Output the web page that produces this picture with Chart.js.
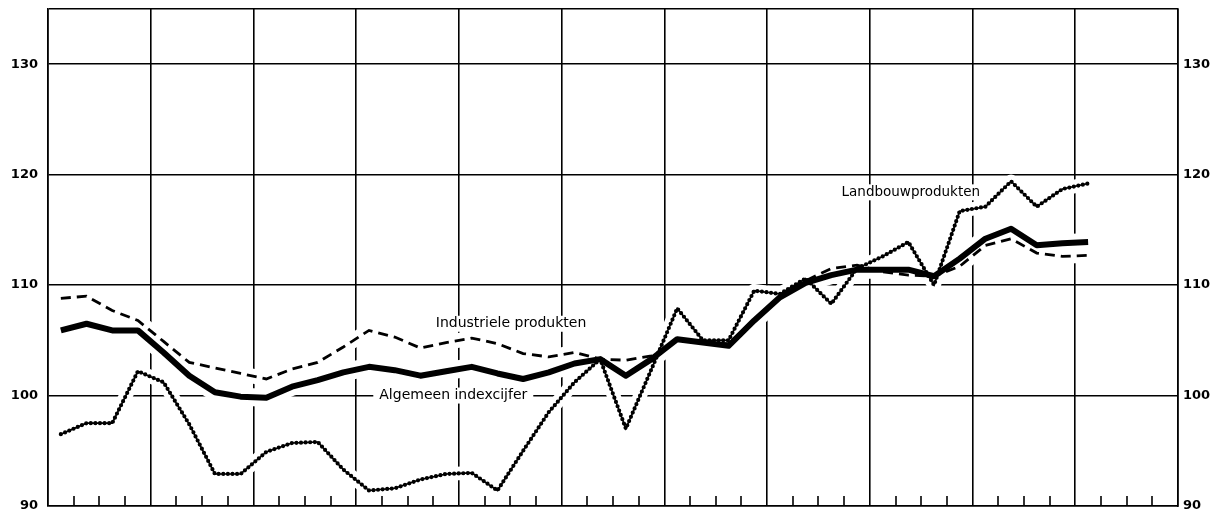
<!DOCTYPE html>
<html>
<head>
<meta charset="utf-8">
<script src="https://cdn.jsdelivr.net/npm/chart.js@4.4.1/dist/chart.umd.min.js"></script>
<style>
    html, body { margin: 0; padding: 0; background: #fff; }
    #wrap { width: 1217px; height: 511px; }
</style>
</head>
<body>
<div id="wrap"><canvas id="grafiek"></canvas></div>
<script>
// indexcijfers per kwartaal (44 kwartalen op de as, 41 waarnemingen)
const algemeen = [
    105.9, 106.5, 105.9, 105.9, 103.9, 101.8, 100.3, 99.9, 99.8, 100.8,
    101.4, 102.1, 102.6, 102.3, 101.8, 102.2, 102.6, 102.0, 101.5, 102.1,
    102.9, 103.3, 101.8, 103.3, 105.1, 104.8, 104.5, 106.8, 108.9, 110.2,
    110.9, 111.4, 111.4, 111.4, 110.8, 112.4, 114.2, 115.1, 113.6, 113.8,
    113.9
];
const industrie = [
    108.8, 109.0, 107.7, 106.8, 104.9, 103.0, 102.5, 102.0, 101.5, 102.4,
    103.0, 104.4, 105.9, 105.3, 104.3, 104.8, 105.2, 104.7, 103.8, 103.5,
    103.9, 103.3, 103.2, 103.6, 105.0, 104.8, 104.7, 106.9, 109.0, 110.4,
    111.5, 111.8, 111.2, 110.9, 110.8, 111.7, 113.6, 114.2, 112.9, 112.6,
    112.7
];
const landbouw = [
    96.5, 97.5, 97.5, 102.2, 101.2, 97.4, 92.9, 92.9, 94.9, 95.7,
    95.8, 93.3, 91.4, 91.6, 92.4, 92.9, 93.0, 91.4, 95.0, 98.5,
    101.2, 103.3, 97.0, 102.4, 107.9, 105.0, 105.0, 109.5, 109.2, 110.6,
    108.3, 111.5, 112.6, 113.9, 110.0, 116.7, 117.1, 119.4, 117.1, 118.7,
    119.2
];
const aantalKwartalen = 44;
const yMin = 90;
const yMax = 135;
const yStap = 10;
const reeksNamen = ['Algemeen indexcijfer', 'Industriele produkten', 'Landbouwprodukten'];

// punt midden in het kwartaal
function punten(reeks) {
    return reeks.map((v, i) => ({ x: i + 0.5, y: v }));
}

const asFont = { family: 'DejaVu Sans', weight: 'bold', size: 13 };

const versiering = {
    id: 'versiering',
    beforeDatasetsDraw(chart) {
        const { ctx, chartArea, scales: { x } } = chart;
        ctx.save();
        // witte rand om de lijnen: het raster is daar onderbroken
        ctx.strokeStyle = '#fff';
        ctx.lineJoin = 'round';
        ctx.lineCap = 'round';
        [0, 1, 2].forEach(i => {
            const pts = chart.getDatasetMeta(i).data;
            ctx.lineWidth = chart.data.datasets[i].borderWidth + 12;
            ctx.beginPath();
            pts.forEach((p, k) => k ? ctx.lineTo(p.x, p.y) : ctx.moveTo(p.x, p.y));
            ctx.stroke();
        });
        // streepjes onderaan voor elk kwartaal
        ctx.strokeStyle = '#000';
        ctx.lineWidth = 1.6;
        ctx.lineCap = 'butt';
        for (let k = x.min + 1; k < x.max; k++) {
            if (k % 4 === 0) continue;
            const px = Math.round(x.getPixelForValue(k));
            ctx.beginPath();
            ctx.moveTo(px, chartArea.bottom);
            ctx.lineTo(px, chartArea.bottom - 10);
            ctx.stroke();
        }
        ctx.restore();
    },
    afterDatasetsDraw(chart) {
        const { ctx, scales: { x, y } } = chart;
        const teksten = [
            { tekst: reeksNamen[1], x: 15.1, y: 106.5, size: 14 },
            { tekst: reeksNamen[0], x: 12.9, y: 100, size: 14 },
            { tekst: reeksNamen[2], x: 30.9, y: 118.4, size: 13.5 }
        ];
        ctx.save();
        ctx.textBaseline = 'middle';
        ctx.textAlign = 'left';
        teksten.forEach(t => {
            ctx.font = t.size + 'px "DejaVu Sans"';
            const w = ctx.measureText(t.tekst).width;
            const px = x.getPixelForValue(t.x);
            const py = y.getPixelForValue(t.y);
            ctx.fillStyle = '#fff';
            ctx.fillRect(px - 6, py - 8, w + 12, 16);
            ctx.fillStyle = '#000';
            ctx.fillText(t.tekst, px, py);
        });
        ctx.restore();
    }
};

const ctx = document.getElementById('grafiek');

new Chart(ctx, {
    type: 'line',
    data: {
        datasets: [
            {
                label: reeksNamen[0],
                data: punten(algemeen),
                borderColor: '#000',
                borderWidth: 6,
                borderJoinStyle: 'round',
                pointRadius: 0
            },
            {
                label: reeksNamen[1],
                data: punten(industrie),
                borderColor: '#000',
                borderWidth: 2.8,
                borderDash: [10, 6],
                pointRadius: 0
            },
            {
                label: reeksNamen[2],
                data: punten(landbouw),
                borderColor: '#000',
                borderWidth: 1.6,
                pointRadius: 0
            },
            {
                label: reeksNamen[2] + ' (stippen)',
                data: punten(landbouw),
                borderColor: '#000',
                borderWidth: 4.2,
                borderDash: [0, 4.6],
                borderCapStyle: 'round',
                pointRadius: 0
            }
        ]
    },
    options: {
        responsive: true,
        maintainAspectRatio: false,
        animation: false,
        layout: { padding: { top: 9, bottom: 5, left: 0, right: 0 } },
        plugins: {
            legend: { display: false },
            tooltip: { enabled: false }
        },
        elements: { line: { tension: 0 } },
        scales: {
            x: {
                type: 'linear',
                min: 0,
                max: aantalKwartalen,
                ticks: { display: false, stepSize: 4 },
                grid: { color: '#000', lineWidth: 1.6, drawTicks: false },
                border: { color: '#000', width: 1.6 }
            },
            y: {
                position: 'left',
                min: yMin,
                max: yMax,
                ticks: {
                    stepSize: yStap,
                    color: '#000',
                    font: asFont,
                    padding: 10,
                    callback: v => v % yStap === 0 ? v : ''
                },
                grid: { color: '#000', lineWidth: 1.6, drawTicks: false },
                border: { color: '#000', width: 1.6 },
                afterFit: s => { s.width = 48; s.paddingTop = 0; s.paddingBottom = 0; }
            },
            y2: {
                position: 'right',
                min: yMin,
                max: yMax,
                ticks: {
                    stepSize: yStap,
                    color: '#000',
                    font: asFont,
                    padding: 5,
                    callback: v => v % yStap === 0 ? v : ''
                },
                grid: { drawOnChartArea: false, drawTicks: false },
                border: { color: '#000', width: 1.6 },
                afterFit: s => { s.width = 39; s.paddingTop = 0; s.paddingBottom = 0; }
            }
        }
    },
    plugins: [versiering]
});
</script>
</body>
</html>
